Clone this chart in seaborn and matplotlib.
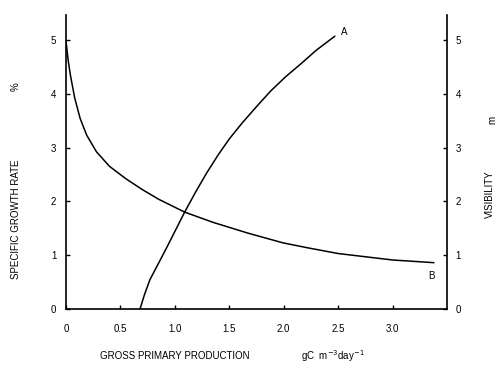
import matplotlib
matplotlib.use("Agg")
import matplotlib.pyplot as plt
import seaborn as sns
import pandas as pd

# curve A: visibility (m) vs gross primary production
prod_a = [0.68, 0.72, 0.77, 0.84, 0.92, 1.00, 1.09, 1.19, 1.29, 1.40, 1.50,
          1.62, 1.75, 1.88, 2.02, 2.16, 2.30, 2.47]
vis_a = [0.0, 0.26, 0.54, 0.81, 1.12, 1.44, 1.80, 2.17, 2.52, 2.87, 3.16,
         3.46, 3.76, 4.05, 4.32, 4.56, 4.81, 5.07]

# curve B: specific growth rate (%) vs gross primary production
prod_b = [0.0, 0.02, 0.04, 0.08, 0.13, 0.19, 0.28, 0.40, 0.55, 0.70, 0.85,
          1.09, 1.35, 1.67, 1.99, 2.21, 2.50, 3.00, 3.38]
rate_b = [4.98, 4.62, 4.35, 3.92, 3.54, 3.23, 2.92, 2.65, 2.42, 2.22, 2.04,
          1.80, 1.61, 1.41, 1.23, 1.14, 1.03, 0.91, 0.86]

x_ticks = [0, 0.5, 1.0, 1.5, 2.0, 2.5, 3.0]
x_tick_labels = ["0", "0.5", "1.0", "1.5", "2.0", "2.5", "3.0"]
y_ticks = [0, 1, 2, 3, 4, 5]

df_a = pd.DataFrame({"prod": prod_a, "vis": vis_a})
df_b = pd.DataFrame({"prod": prod_b, "rate": rate_b})

sns.set_style("ticks")
plt.rcParams["font.family"] = ["Liberation Sans", "DejaVu Sans"]
plt.rcParams["text.color"] = "black"
plt.rcParams["xtick.color"] = "black"
plt.rcParams["ytick.color"] = "black"
plt.rcParams["axes.edgecolor"] = "black"

fig = plt.figure(figsize=(5, 3.7), dpi=100)
ax = fig.add_axes([0.132, 0.165, 0.762, 0.794])
ax2 = ax.twinx()

sns.lineplot(data=df_b, x="prod", y="rate", ax=ax, color="black", lw=1.1,
             estimator=None, sort=False)
sns.lineplot(data=df_a, x="prod", y="vis", ax=ax2, color="black", lw=1.1,
             estimator=None, sort=False)

for a in (ax, ax2):
    a.set_xlim(0, 3.5)
    a.set_ylim(0, 5.46)
    a.set_xlabel("")
    a.set_ylabel("")
    a.spines["top"].set_visible(False)
    for s in a.spines.values():
        s.set_linewidth(1.2)

ax.spines["right"].set_visible(False)
ax2.spines["left"].set_visible(False)
ax2.spines["bottom"].set_visible(False)
ax2.spines["right"].set_visible(True)

ax.set_xticks(x_ticks)
ax.set_xticklabels(x_tick_labels)
ax.set_yticks(y_ticks)
ax2.set_yticks(y_ticks)

ax.tick_params(axis="x", direction="in", length=3, width=1, pad=11, labelsize=7)
ax.tick_params(axis="y", direction="in", length=3, width=1, pad=7, labelsize=7)
ax2.tick_params(axis="y", direction="in", length=3, width=1, pad=6, labelsize=7)

ax2.text(2.53, 5.14, "A", fontsize=7, ha="left", va="center")
ax.text(3.36, 0.61, "B", fontsize=7, ha="center", va="center")

fig.text(0.032, 0.408, "SPECIFIC GROWTH RATE", rotation=90, fontsize=7,
         ha="center", va="center")
fig.text(0.032, 0.765, "%", rotation=90, fontsize=7, ha="center", va="center")
fig.text(0.98, 0.476, "VISIBILITY", rotation=90, fontsize=7,
         ha="center", va="center")
fig.text(0.985, 0.676, "m", rotation=90, fontsize=7, ha="center", va="center")
fig.text(0.35, 0.038, "GROSS PRIMARY PRODUCTION", fontsize=7,
         ha="center", va="center")
fig.text(0.602, 0.038, r"gC  m$^{-3}$day$^{-1}$", fontsize=7,
         ha="left", va="center")

fig.savefig("out.png", dpi=100)
